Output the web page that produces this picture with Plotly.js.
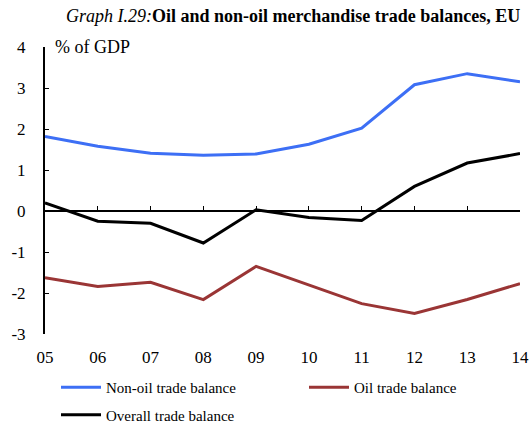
<!DOCTYPE html>
<html><head><meta charset="utf-8">
<script src="https://cdn.plot.ly/plotly-3.0.1.min.js"></script>
<style>html,body{margin:0;padding:0;background:#fff}#chart{width:531px;height:423px}</style>
</head><body><div id="chart"></div>
<script>
const years = ["05","06","07","08","09","10","11","12","13","14"];
const nonOil = [1.82, 1.58, 1.41, 1.36, 1.39, 1.63, 2.02, 3.08, 3.35, 3.15];
const oil = [-1.63, -1.84, -1.74, -2.16, -1.35, -1.81, -2.26, -2.50, -2.16, -1.77];
const overall = [0.20, -0.25, -0.30, -0.78, 0.03, -0.16, -0.23, 0.60, 1.17, 1.40];
const names = ["Non-oil trade balance", "Oil trade balance", "Overall trade balance"];
const colors = ["#3d6ff5", "#9a3535", "#000000"];
const yTicks = [-3, -2, -1, 0, 1, 2, 3, 4];
const yTickText = ["-3", "-2", "-1", "0", "1", "2", "3", "4"];

const xNum = years.map((_, i) => i);
const font = "Liberation Serif, Times New Roman, serif";
const series = [nonOil, oil, overall];
const legendOf = ["legend", "legend2", "legend"];
const traces = series.map((s, k) => ({
  x: xNum, y: s, type: "scatter", mode: "lines", name: names[k],
  line: {color: colors[k], width: 3}, xaxis: "x", yaxis: "y",
  legend: legendOf[k], legendgroup: "g" + k
}));
traces.push({x: [0, years.length - 1], y: [0, 0], xaxis: "x2", yaxis: "y", mode: "lines",
  line: {color: "rgba(0,0,0,0)", width: 0}, showlegend: false, hoverinfo: "skip"});

const legendBase = {orientation: "v", xref: "container", yref: "container", xanchor: "left", yanchor: "top",
  font: {family: font, size: 15}, tracegroupgap: 5, itemwidth: 40, bgcolor: "rgba(0,0,0,0)", borderwidth: 0};

const layout = {
  width: 531, height: 423,
  margin: {l: 45, r: 11, t: 47, b: 89, autoexpand: false},
  paper_bgcolor: "#fff", plot_bgcolor: "#fff",
  font: {family: font, size: 17, color: "#000"},
  title: {text: "<i>Graph I.29:</i><b>Oil and non-oil merchandise trade balances, EU</b>",
    font: {family: font, size: 18, color: "#000"}, x: 0.552, xanchor: "center", y: 0.962, yanchor: "middle"},
  xaxis: {range: [0, years.length - 1], tickmode: "array", tickvals: xNum, ticktext: years,
    showgrid: false, zeroline: false, showline: false, ticks: "", ticklabelstandoff: 11,
    tickfont: {family: font, size: 17}, automargin: false},
  xaxis2: {range: [0, years.length - 1], overlaying: "x", anchor: "free", position: 3/7,
    tickmode: "array", tickvals: xNum, showticklabels: false, ticks: "inside", ticklen: 4,
    tickwidth: 1, tickcolor: "#000", showline: true, linecolor: "#000", linewidth: 2,
    showgrid: false, zeroline: false},
  yaxis: {range: [-3, 4], tickmode: "array", tickvals: yTicks, ticktext: yTickText, showgrid: false, zeroline: false,
    showline: true, linecolor: "#000", linewidth: 2, ticks: "inside", ticklen: 4, tickwidth: 1,
    tickcolor: "#000", ticklabelstandoff: 14, tickfont: {family: font, size: 17}, automargin: false},
  showlegend: true,
  legend: Object.assign({}, legendBase, {x: 56 / 531, y: 1 - 371 / 423}),
  legend2: Object.assign({}, legendBase, {x: 304 / 531, y: 1 - 371 / 423}),
  annotations: [{text: "% of GDP", xref: "paper", yref: "paper", x: 0.016, y: 1.0,
    xanchor: "left", yanchor: "middle", showarrow: false, font: {family: font, size: 18}}]
};
Plotly.newPlot("chart", traces, layout, {displayModeBar: false, staticPlot: true});
</script></body></html>
